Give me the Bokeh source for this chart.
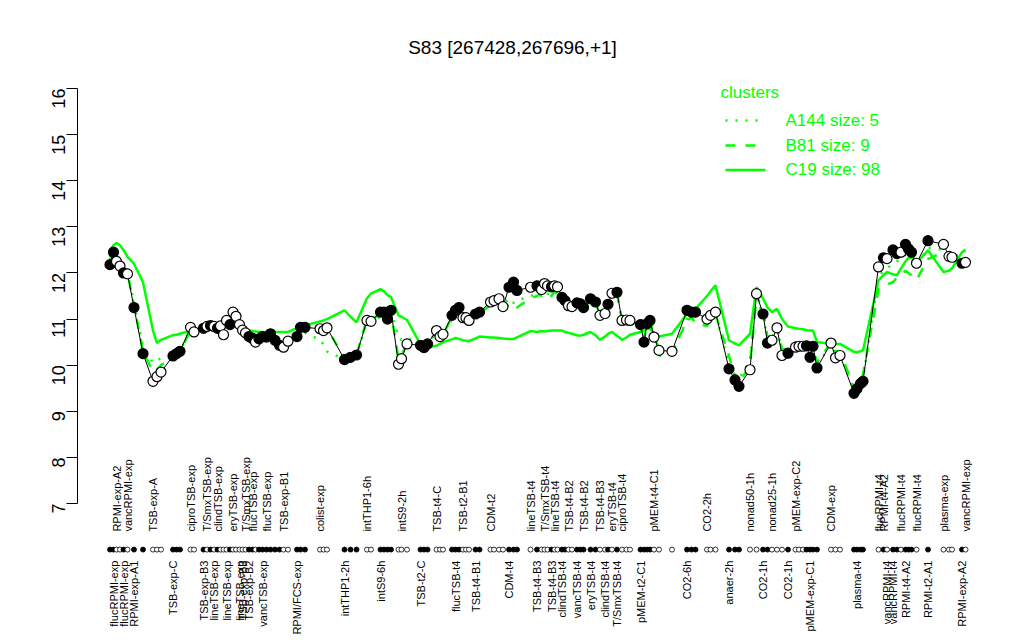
from bokeh.plotting import figure
from bokeh.models import Range1d, FixedTicker
from bokeh.core.properties import value
from bokeh.embed import file_html
from bokeh.resources import INLINE
import math

# ---------------- data ----------------
pos = [109.5, 113, 116, 119.5, 123, 127, 133.5, 142.5, 152.5, 156.5,
       160.5, 172.5, 176, 179.5, 190, 193.5, 203, 206.5, 210, 213.5,
       217, 220, 223, 226, 229.5, 232.5, 235.5, 239, 242, 245,
       248.5, 252, 255, 258.5, 262, 266, 270, 274.5, 279, 283,
       287.5, 296.5, 300, 304.5, 319.5, 323, 326.5, 344, 350, 356,
       366.5, 370.5, 380, 383.5, 387, 390.5, 398, 401, 406.5, 420,
       423.5, 427, 436, 439.5, 442.5, 451.5, 455, 458.5, 462.5, 465.5,
       468.5, 475, 479, 490, 493.5, 498.5, 502.5, 508.5, 513, 516.5,
       530, 536.5, 541, 544, 547, 551, 554, 557, 561.5, 564.5,
       568, 571.5, 576.5, 580, 583, 590, 595, 599.5, 604.5, 607.5,
       611.5, 616.5, 621.5, 626, 629.5, 640, 643.5, 646.5, 649.5, 653.5,
       658.5, 671.5, 686.5, 691, 695, 706.5, 710, 715, 728.5, 734.5,
       738.5, 749.5, 756, 762.5, 767, 771.5, 776.5, 781.5, 787.5, 795,
       798.5, 802.5, 806, 809.5, 812.5, 816.5, 830.5, 835, 839.5, 853.5,
       856.5, 860, 862.5, 878, 883, 886.5, 892.5, 896.5, 900.5, 905,
       908, 911, 916, 927.5, 943, 948.5, 951.5, 961.5, 965]

expr = [12.18, 12.45, 12.25, 12.15, 12.0, 11.98, 11.25, 10.25, 9.65, 9.75,
        9.85, 10.2, 10.25, 10.3, 10.82, 10.72, 10.8, 10.84, 10.86, 10.84,
        10.8, 10.85, 10.66, 10.97, 10.88, 11.15, 11.06, 10.88, 10.76, 10.7,
        10.62, 10.58, 10.5, 10.57, 10.62, 10.61, 10.68, 10.54, 10.43, 10.39,
        10.52, 10.62, 10.82, 10.82, 10.79, 10.75, 10.81, 10.12, 10.17, 10.22,
        10.97, 10.95, 11.15, 11.15, 11.0, 11.19, 10.02, 10.14, 10.46, 10.43,
        10.38, 10.46, 10.75, 10.62, 10.67, 11.08, 11.19, 11.25, 11.03, 11.03,
        10.97, 11.11, 11.15, 11.37, 11.4, 11.44, 11.27, 11.69, 11.8, 11.62,
        11.69, 11.72, 11.64, 11.77, 11.72, 11.7, 11.72, 11.7, 11.47, 11.4,
        11.29, 11.27, 11.35, 11.33, 11.25, 11.44, 11.37, 11.08, 11.12, 11.32,
        11.56, 11.58, 10.97, 10.98, 10.97, 10.88, 10.5, 10.9, 10.97, 10.61,
        10.32, 10.3, 11.19, 11.15, 11.15, 11.0, 11.08, 11.15, 9.92, 9.68,
        9.54, 9.9, 11.55, 11.11, 10.48, 10.54, 10.81, 10.21, 10.26, 10.39,
        10.41, 10.41, 10.42, 10.17, 10.41, 9.94, 10.48, 10.16, 10.21, 9.39,
        9.49, 9.6, 9.65, 12.13, 12.33, 12.31, 12.5, 12.42, 12.45, 12.62,
        12.52, 12.45, 12.21, 12.7, 12.62, 12.36, 12.34, 12.21, 12.23]

filled = [1, 1, 0, 0, 1, 0, 1, 1, 0, 0,
          0, 1, 1, 1, 0, 0, 1, 0, 1, 0,
          1, 0, 0, 0, 1, 0, 0, 0, 0, 0,
          1, 1, 0, 1, 1, 1, 1, 1, 1, 0,
          0, 1, 1, 1, 0, 0, 0, 1, 1, 1,
          0, 0, 1, 1, 1, 1, 0, 0, 0, 1,
          1, 1, 0, 0, 0, 1, 1, 1, 0, 0,
          0, 1, 1, 0, 0, 0, 0, 1, 1, 1,
          0, 1, 0, 0, 0, 1, 0, 0, 1, 1,
          0, 0, 1, 1, 1, 1, 1, 0, 0, 1,
          0, 1, 0, 0, 0, 1, 1, 1, 1, 0,
          0, 0, 1, 1, 1, 0, 0, 0, 1, 1,
          1, 0, 0, 1, 1, 0, 0, 0, 1, 0,
          0, 0, 1, 1, 1, 1, 0, 0, 0, 1,
          1, 1, 1, 0, 1, 0, 1, 1, 0, 1,
          1, 1, 0, 1, 0, 0, 0, 1, 0]

# condition labels: point index (1-based), text, side (U above dot row, L below)
label_index = [2, 3, 5, 6, 7, 9, 12, 15, 17, 18, 20, 21, 24, 26, 28, 29, 30, 31, 32,
               35, 36, 40, 42, 45, 48, 51, 53, 58, 60, 63, 67, 69, 72, 74, 78,
               81, 82, 84, 86, 87, 89, 91, 93, 95, 96, 98, 99, 101, 102, 103, 106, 110,
               113, 116, 119, 122, 124, 126, 129, 130, 134, 137, 141, 144, 145, 146,
               147, 149, 150, 153, 154, 155, 158, 159]
label_text = ["flucRPMI-exp", "RPMI-exp-A2", "flucRPMI-exp", "vancRPMI-exp", "RPMI-exp-A1",
              "TSB-exp-A", "TSB-exp-C", "ciproTSB-exp", "TSB-exp-B3", "T/SmxTSB-exp",
              "lineTSB-exp", "clindTSB-exp", "lineTSB-exp", "eryTSB-exp", "lineTSB-exp",
              "TSB-exp-B3", "T/SmxTSB-exp", "TSB-exp-B2", "flucTSB-exp",
              "vancTSB-exp", "flucTSB-exp", "TSB-exp-B1", "RPMI/FCS-exp", "colist-exp",
              "intTHP1-2h", "intTHP1-6h", "intS9-6h", "intS9-2h", "TSB-t2-C", "TSB-t4-C",
              "flucTSB-t4", "TSB-t2-B1", "TSB-t4-B1", "CDM-t2", "CDM-t4",
              "lineTSB-t4", "TSB-t4-B3", "T/SmxTSB-t4", "TSB-t4-B3", "lineTSB-t4",
              "clindTSB-t4", "TSB-t4-B2", "vancTSB-t4", "TSB-t4-B2", "eryTSB-t4",
              "TSB-t4-B3", "clindTSB-t4", "eryTSB-t4", "T/SmxTSB-t4", "ciproTSB-t4",
              "pMEM-t2-C1", "pMEM-t4-C1",
              "CO2-6h", "CO2-2h", "anaer-2h", "nonad50-1h", "CO2-1h", "nonad25-1h",
              "CO2-1h", "pMEM-exp-C2", "pMEM-exp-C1", "CDM-exp", "plasma-t4",
              "flucRPMI-t4", "RPMI-t4-A2", "vancRPMI-t4", "vancRPMI-t4", "flucRPMI-t4",
              "RPMI-t4-A2", "flucRPMI-t4", "RPMI-t2-A1", "plasma-exp", "RPMI-exp-A2",
              "vancRPMI-exp"]
label_side = ["L", "U", "L", "U", "L", "U", "L", "U", "L", "U", "L", "U", "L", "U", "L",
              "L", "U", "L", "U", "L", "U", "U", "L", "U", "L", "U", "L", "U", "L", "U",
              "L", "U", "L", "U", "L",
              "U", "L", "U", "L", "U", "L", "U", "L", "U", "L", "U", "L", "U", "L", "U",
              "L", "U",
              "L", "U", "L", "U", "L", "U", "L", "U", "L", "U", "L",
              "U", "U", "L", "L", "U", "L", "U", "L", "U", "L", "U"]

c19 = [12.48, 12.6, 12.65, 12.6, 12.5, 12.35, 12.2, 11.8, 10.75, 10.48,
       10.55, 10.65, 10.66, 10.68, 10.75, 10.77, 10.8, 10.8, 10.82, 10.82,
       10.82, 10.85, 10.87, 10.88, 10.9, 10.88, 10.85, 10.8, 10.77, 10.76,
       10.75, 10.74, 10.73, 10.72, 10.72, 10.72, 10.72, 10.72, 10.72, 10.72,
       10.72, 10.8, 10.84, 10.86, 10.95, 10.97, 11.0, 11.19, 11.05, 10.93,
       11.45, 11.55, 11.65, 11.6, 11.52, 11.48, 11.08, 11.05, 10.98, 10.45,
       10.4, 10.39, 10.42, 10.46, 10.5, 10.56, 10.59, 10.57, 10.54, 10.53,
       10.52, 10.58, 10.62, 10.6, 10.6, 10.59, 10.58, 10.57, 10.57, 10.6,
       10.74, 10.72, 10.74, 10.73, 10.74, 10.75, 10.75, 10.75, 10.75, 10.72,
       10.7, 10.68, 10.65, 10.64, 10.66, 10.72, 10.65, 10.55, 10.62, 10.68,
       10.72, 10.64, 10.55, 10.6, 10.66, 10.72, 10.75, 10.78, 10.79, 10.7,
       10.62, 10.68, 11.11, 11.18, 11.22, 11.5, 11.6, 11.73, 10.54, 10.47,
       10.43, 10.68, 11.69, 11.45, 11.25, 11.15, 11.22, 11.0, 10.84, 10.8,
       10.79, 10.78, 10.76, 10.75, 10.75, 10.5, 10.46, 10.46, 10.46, 10.29,
       10.28, 10.3, 10.32, 11.84, 11.95, 12.02, 11.97, 11.95, 12.1, 12.25,
       12.32, 12.34, 12.22, 12.49, 12.02, 12.05, 12.1, 12.45, 12.5]

b81 = [12.3, 12.45, 12.35, 12.2, 12.1, 12.0, 11.3, 10.3, 9.85, 9.9,
       10.0, 10.15, 10.2, 10.3, 10.75, 10.7, 10.8, 10.82, 10.85, 10.85,
       10.85, 10.85, 10.8, 10.95, 10.9, 11.1, 11.0, 10.9, 10.78, 10.7,
       10.65, 10.6, 10.55, 10.6, 10.62, 10.6, 10.65, 10.55, 10.45, 10.45,
       10.55, 10.65, 10.8, 10.82, 10.8, 10.78, 10.8, 10.15, 10.18, 10.22,
       11.0, 11.0, 11.1, 11.1, 11.0, 11.15, 10.15, 10.2, 10.5, 10.45,
       10.42, 10.5, 10.7, 10.62, 10.65, 11.05, 11.15, 11.2, 11.05, 11.02,
       10.98, 11.1, 11.12, 11.3, 11.35, 11.38, 11.25, 11.3, 11.2, 11.25,
       11.45, 11.5, 11.55, 11.5, 11.55, 11.5, 11.6, 11.55, 11.4, 11.35,
       11.28, 11.25, 11.3, 11.3, 11.25, 11.4, 11.35, 11.1, 11.1, 11.3,
       11.5, 11.55, 11.0, 11.0, 10.98, 10.85, 10.55, 10.9, 10.95, 10.65,
       10.35, 10.3, 10.95, 11.05, 10.9, 10.85, 11.0, 11.1, 10.2, 9.75,
       9.6, 10.0, 11.5, 11.2, 10.6, 10.65, 10.85, 10.35, 10.35, 10.5,
       10.48, 10.45, 10.42, 10.25, 10.4, 10.05, 10.5, 10.3, 10.3, 9.5,
       9.55, 9.65, 9.8, 11.65, 11.7, 11.75, 11.8, 11.9, 11.95, 12.05,
       12.0, 11.95, 11.85, 12.3, 12.45, 12.35, 12.3, 12.45, 12.5]

a144 = [12.35, 12.55, 12.4, 12.3, 12.15, 12.05, 11.35, 10.4, 10.05, 10.1,
        10.15, 10.2, 10.25, 10.3, 10.8, 10.75, 10.78, 10.82, 10.85, 10.84,
        10.82, 10.85, 10.7, 10.95, 10.88, 11.1, 11.02, 10.88, 10.75, 10.68,
        10.6, 10.56, 10.52, 10.56, 10.6, 10.6, 10.65, 10.52, 10.45, 10.42,
        10.5, 10.6, 10.65, 10.7, 10.55, 10.45, 10.3, 10.12, 10.15, 10.2,
        10.95, 10.95, 11.05, 11.1, 11.05, 11.2, 10.6, 10.55, 10.6, 10.45,
        10.4, 10.45, 10.72, 10.62, 10.66, 11.0, 11.1, 11.18, 11.0, 11.0,
        10.95, 11.05, 11.1, 11.35, 11.4, 11.42, 11.3, 11.45, 11.35, 11.4,
        11.5, 11.55, 11.5, 11.6, 11.55, 11.55, 11.6, 11.55, 11.42, 11.38,
        11.3, 11.28, 11.32, 11.3, 11.25, 11.4, 11.35, 11.1, 11.12, 11.3,
        11.52, 11.55, 11.0, 10.98, 10.95, 10.8, 10.6, 10.85, 10.92, 10.5,
        10.2, 10.25, 11.0, 11.1, 11.05, 10.95, 11.05, 11.12, 10.0, 9.8,
        9.7, 10.1, 11.45, 11.1, 10.55, 10.6, 10.8, 10.3, 10.3, 10.45,
        10.45, 10.42, 10.4, 10.2, 10.4, 10.0, 10.45, 10.25, 10.25, 9.45,
        9.5, 9.6, 9.7, 11.9, 12.05, 12.1, 12.2, 12.25, 12.3, 12.4,
        12.35, 12.3, 12.15, 12.55, 12.5, 12.4, 12.35, 12.4, 12.45]

cluster_names = ["A144", "B81", "C19"]
cluster_sizes = [5, 9, 98]
cluster_dash = ["2 8", "10 10", "solid"]
y_ticks = [7, 8, 9, 10, 11, 12, 13, 14, 15, 16]
title_text = "S83 [267428,267696,+1]"

# ---------------- figure ----------------
GREEN = "#00FF00"
FONT = "Liberation Sans"

p = figure(width=1010, height=638, output_backend="svg", toolbar_location=None,
           x_range=Range1d(77, 999), y_range=Range1d(4.072, 17.258),
           x_axis_location=None, min_border_left=77, min_border_right=11,
           min_border_top=30, min_border_bottom=0)
p.grid.visible = False
p.outline_line_color = None
p.background_fill_color = "white"
p.border_fill_color = "white"

ax = p.yaxis[0]
ax.bounds = (7, 16)
ax.ticker = FixedTicker(ticks=y_ticks)
ax.minor_tick_line_color = None
ax.major_tick_in = 0
ax.major_tick_out = 11
ax.major_label_orientation = math.pi / 2
ax.major_label_text_font = FONT
ax.major_label_text_font_size = "18px"
ax.major_label_text_color = "black"
ax.major_label_standoff = 8
ax.axis_line_color = "black"
ax.major_tick_line_color = "black"

# cluster lines
for vals, dash in zip([a144, b81, c19], cluster_dash):
    p.line(pos, vals, line_color=GREEN, line_width=2.5, line_dash=dash)

# expression line and points
p.line(pos, expr, line_color="black", line_width=1)
fill_cols = ["black" if f else "white" for f in filled]
p.scatter(pos, expr, size=10, marker="circle", fill_color=fill_cols,
          line_color="black", line_width=1.2)

# dot row
ROW_Y = 6.0
p.scatter(pos, [ROW_Y] * len(pos), size=5, marker="circle", fill_color=fill_cols,
          line_color="black", line_width=0.8)

# condition labels
ux, ut, lx, lt = [], [], [], []
for i, t, s in zip(label_index, label_text, label_side):
    if s == "U":
        ux.append(pos[i - 1]); ut.append(t)
    else:
        lx.append(pos[i - 1]); lt.append(t)
p.text(ux, [6.39] * len(ux), text=ut, angle=math.pi / 2, text_align="left",
       text_baseline="middle", text_font=value(FONT), text_font_size="11px",
       text_color="black")
p.text(lx, [5.76] * len(lx), text=lt, angle=math.pi / 2, text_align="right",
       text_baseline="middle", text_font=value(FONT), text_font_size="11px",
       text_color="black")

# title
p.text([512], [16.89], text=[title_text], text_align="center", text_baseline="middle",
       text_font=value(FONT), text_font_size="19px", text_color="black")

# legend
def py(ypx):
    return 7 + (503 - ypx) / 46.11

p.text([720], [py(92)], text=["clusters"], text_align="left", text_baseline="middle",
       text_font=value(FONT), text_font_size="17px", text_color=GREEN)
rows_y = [py(120), py(145), py(169.5)]
for name, size, dash, yy in zip(cluster_names, cluster_sizes, cluster_dash, rows_y):
    p.line([725, 765], [yy, yy], line_color=GREEN, line_width=2.5, line_dash=dash)
    p.text([785], [yy], text=[f"{name} size: {size}"], text_align="left",
           text_baseline="middle", text_font=value(FONT), text_font_size="17px",
           text_color=GREEN)

open("out.html", "w").write(file_html(p, INLINE))
